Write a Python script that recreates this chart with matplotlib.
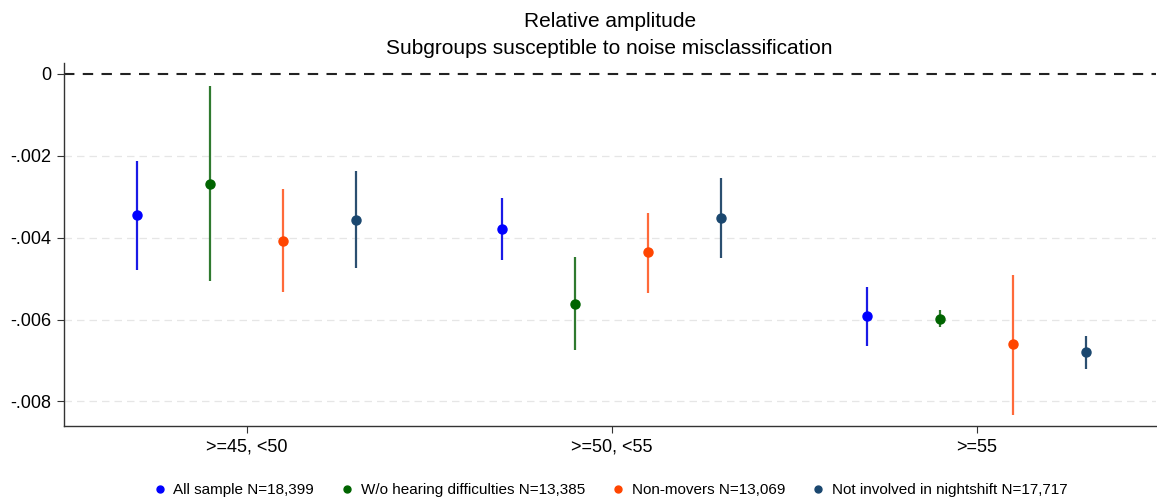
import numpy as np
import matplotlib.pyplot as plt
from matplotlib.lines import Line2D

plt.rcParams['font.family'] = ['Liberation Sans', 'DejaVu Sans']

groups = ['>=45, <50', '>=50, <55', '>=55']
series = ['All sample N=18,399', 'W/o hearing difficulties N=13,385',
          'Non-movers N=13,069', 'Not involved in nightshift N=17,717']

# point estimates per series, one value per age group
est = [
    [-0.00345, -0.00378, -0.00591],
    [-0.00268, -0.00561, -0.00598],
    [-0.00407, -0.00435, -0.00660],
    [-0.00356, -0.00352, -0.00680],
]
lo = [
    [-0.00478, -0.00454, -0.00665],
    [-0.00506, -0.00674, -0.00618],
    [-0.00533, -0.00534, -0.00833],
    [-0.00474, -0.00450, -0.00720],
]
hi = [
    [-0.00213, -0.00303, -0.00520],
    [-0.00029, -0.00448, -0.00577],
    [-0.00281, -0.00339, -0.00490],
    [-0.00236, -0.00254, -0.00640],
]

line_colors = ['#1a1ae6', '#2f7a2f', '#ff6a3a', '#2b4f70']
marker_colors = ['#0000ff', '#006400', '#ff4500', '#1a476f']

fig = plt.figure(figsize=(11.57, 5.03), dpi=100)
ax = fig.add_axes([0.0553, 0.153, 0.9437, 0.722])

for s in range(len(series)):
    xs = [g * 5 + s + 1 for g in range(len(groups))]
    ax.vlines(xs, lo[s], hi[s], color=line_colors[s], lw=1.6, zorder=2)
    ax.plot(xs, est[s], 'o', color=marker_colors[s], ms=6.5, zorder=3)

ax.axhline(0, color='#222222', lw=1.5, ls=(0, (5, 4)), zorder=1)
for v in [-0.002, -0.004, -0.006, -0.008]:
    ax.axhline(v, color='#e6e6e6', lw=0.9, ls=(0, (6, 4)), zorder=0)

ax.set_xlim(0, 14.95)
ax.set_ylim(-0.0086, 0.00027)
ax.set_yticks([0, -0.002, -0.004, -0.006, -0.008])
ax.set_yticklabels(['0', '-.002', '-.004', '-.006', '-.008'], fontsize=13)
ax.set_xticks([2.5, 7.5, 12.5])
ax.set_xticklabels(groups, fontsize=13)
ax.tick_params(axis='both', direction='out', length=5, color='#333333', pad=4)
for side in ['top', 'right']:
    ax.spines[side].set_visible(False)
for side in ['left', 'bottom']:
    ax.spines[side].set_color('#333333')
    ax.spines[side].set_linewidth(1.0)

fig.text(0.527, 0.958, 'Relative amplitude', fontsize=15, ha='center', va='center')
fig.text(0.527, 0.903, 'Subgroups susceptible to noise misclassification',
         fontsize=15, ha='center', va='center')

handles = [Line2D([], [], marker='o', ls='', color=marker_colors[i], ms=5)
           for i in range(len(series))]
fig.legend(handles, series, loc='center', bbox_to_anchor=(0.527, 0.026), ncol=4,
           frameon=False, fontsize=11, handlelength=1.0, handletextpad=0.4,
           columnspacing=1.66, borderpad=0)

fig.savefig('out.png', dpi=100)
